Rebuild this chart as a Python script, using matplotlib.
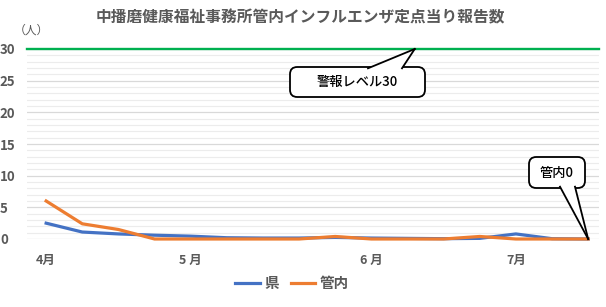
import numpy as np
from matplotlib import pyplot as plt
from matplotlib.patches import FancyBboxPatch, Polygon

plt.rcParams['font.family'] = ['Noto Sans CJK JP', 'DejaVu Sans']

# weekly values (per fixed point), April - July
weeks = np.arange(16)
ken = [2.5, 1.1, 0.8, 0.6, 0.45, 0.2, 0.15, 0.15, 0.25, 0.15, 0.1, 0.05, 0.1, 0.8, 0.05, 0.0]
kannai = [6.0, 2.4, 1.5, 0.0, 0.0, 0.0, 0.0, 0.0, 0.4, 0.0, 0.0, 0.0, 0.4, 0.0, 0.0, 0.0]
alert_level = 30

month_pos = [0, 4, 9, 13]
month_labels = ['4月', '5 月', '6 月', '7月']

gray = '#595959'
W, H = 606, 307

fig = plt.figure(figsize=(W / 100, H / 100), dpi=100)
ax = fig.add_axes([27 / W, 68 / H, 572 / W, 190 / H])

ax.set_xlim(-0.53, 15.3)
ax.set_ylim(0, 30)

# grid: light minor lines every 1, darker major every 5
ax.set_yticks(np.arange(0, 31, 5))
ax.set_yticks(np.arange(0, 31, 1), minor=True)
ax.grid(which='minor', axis='y', color='#ececec', lw=0.8)
ax.grid(which='major', axis='y', color='#d9d9d9', lw=0.9)
ax.set_axisbelow(True)
ax.tick_params(which='both', length=0)
for s in ax.spines.values():
    s.set_visible(False)

ax.set_yticklabels([str(v) for v in range(0, 31, 5)], fontsize=9.5, fontweight='bold',
                   color=gray, ha='left')
ax.tick_params(axis='y', pad=19.5)

ax.set_xticks(month_pos)
ax.set_xticklabels(month_labels, fontsize=9, fontweight='bold', color=gray)
ax.tick_params(axis='x', pad=11)

ax.axhline(alert_level, color='#00B050', lw=1.7, clip_on=False)
ax.plot(weeks, ken, color='#4472C4', lw=2.3, label='県', clip_on=False, solid_joinstyle='round')
ax.plot(weeks, kannai, color='#ED7D31', lw=2.3, label='管内', clip_on=False, solid_joinstyle='round')

fig.text(31 / W, 1 - 30 / H, '（人）', fontsize=8.5, color=gray, ha='center', va='center')
fig.text(300 / W, 1 - 17 / H, '中播磨健康福祉事務所管内インフルエンザ定点当り報告数',
         fontsize=11.3, fontweight='bold', color=gray, ha='center', va='center')


def px(x, y):
    return (x / W, 1 - y / H)


def callout(text, x0, y0, x1, y1, base, tip_data):
    # rounded box plus a wedge pointing to a data position
    box = FancyBboxPatch(px(x0, y1), (x1 - x0) / W, (y1 - y0) / H,
                         boxstyle='round,pad=0,rounding_size=0.012',
                         transform=fig.transFigure, fc='white', ec='black', lw=1.3, zorder=5,
                         mutation_aspect=W / H)
    fig.add_artist(box)
    tip = fig.transFigure.inverted().transform(ax.transData.transform(tip_data))
    (bx0, by), (bx1, _) = base
    a, b = px(bx0, by), px(bx1, by)
    fig.add_artist(Polygon([a, b, tip], closed=True, transform=fig.transFigure,
                           fc='white', ec='none', zorder=6))
    for p in (a, b):
        fig.add_artist(plt.Line2D([p[0], tip[0]], [p[1], tip[1]], transform=fig.transFigure,
                                  color='black', lw=1.3, zorder=7))
    fig.text((x0 + x1) / 2 / W, 1 - (y0 + y1) / 2 / H, text, fontsize=9.5,
             fontweight='medium', ha='center', va='center', zorder=8)


callout('警報レベル30', 290, 67, 425, 97, [(368, 68.3), (402, 68.3)], (10.2, alert_level))
callout('管内0', 529, 157, 585, 188, [(560, 186.7), (575, 186.7)], (15, 0))

fig.legend(loc='center', bbox_to_anchor=(292 / W, 1 - 283 / H), ncol=2, frameon=False,
           prop={'size': 10.5, 'weight': 'bold'}, labelcolor=gray,
           handlelength=1.7, handletextpad=0.3, columnspacing=0.8)

fig.savefig('out.png', dpi=100)
